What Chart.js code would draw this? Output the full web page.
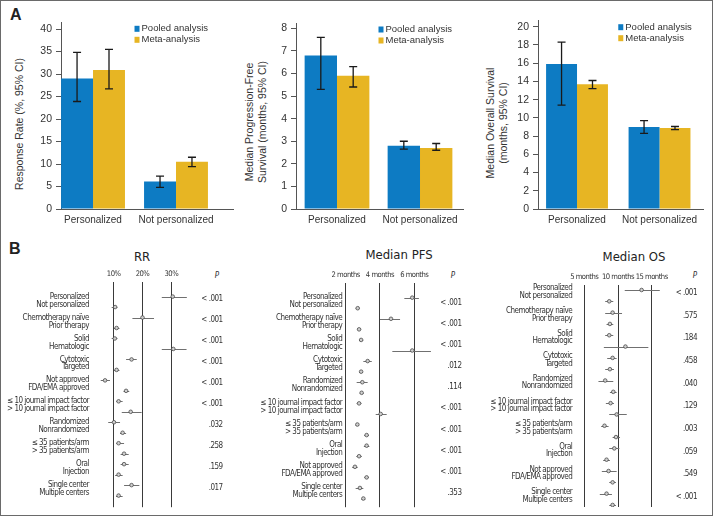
<!DOCTYPE html>
<html>
<head>
<meta charset="utf-8">
<script src="https://cdn.jsdelivr.net/npm/chart.js@4.4.1/dist/chart.umd.min.js"></script>
<style>
  body { margin: 0; background: #fff; }
  #fig { position: relative; width: 714px; height: 519px; overflow: hidden; }
  #frame { position: absolute; left: 0; top: 0; width: 713px; height: 516px; border: 1.5px solid #6a6a6a; box-sizing: border-box; }
  canvas { position: absolute; }
  .txt { position: absolute; white-space: nowrap; color: #222; }
  .panel { font: bold 16px 'Liberation Sans', Arial, sans-serif; line-height: 16px; }
  .ytitle { font: 10.5px 'Liberation Sans', Arial, sans-serif; line-height: 13px; text-align: center; color: #333;
            transform: translate(-50%, -50%) rotate(-90deg); }
  .ftitle { font: 13px 'DejaVu Sans Condensed', sans-serif; line-height: 13px; transform: translateX(-50%); }
  .phead { font: italic 8px 'DejaVu Sans Condensed', sans-serif; line-height: 10px; transform: translateX(-50%); color: #333; }
</style>
</head>
<body>
<div id="fig">
  <div id="frame"></div>

  <div class="txt panel" style="left:10px; top:7px;">A</div>
  <div class="txt panel" style="left:9px; top:241px;">B</div>

  <div class="txt ytitle" style="left:19px; top:124px;">Response Rate (%, 95% CI)</div>
  <div class="txt ytitle" style="left:256px; top:122px;">Median Progression-Free<br>Survival (months, 95% CI)</div>
  <div class="txt ytitle" style="left:497px; top:123px;">Median Overall Survival<br>(months, 95% CI)</div>

  <div class="txt ftitle" style="left:142px; top:250px;">RR</div>
  <div class="txt ftitle" style="left:399px; top:248px;">Median PFS</div>
  <div class="txt ftitle" style="left:634px; top:250px;">Median OS</div>

  <div class="txt phead" style="left:217px; top:271px;">P</div>
  <div class="txt phead" style="left:453px; top:271px;">P</div>
  <div class="txt phead" style="left:695px; top:271px;">P</div>

  <canvas id="barRR" width="240" height="230" style="left:0px; top:0px;"></canvas>
  <canvas id="barPFS" width="240" height="230" style="left:235px; top:0px;"></canvas>
  <canvas id="barOS" width="242" height="230" style="left:470px; top:0px;"></canvas>

  <canvas id="forestRR" width="235" height="253" style="left:0px; top:262px;"></canvas>
  <canvas id="forestPFS" width="240" height="253" style="left:235px; top:262px;"></canvas>
  <canvas id="forestOS" width="242" height="253" style="left:470px; top:262px;"></canvas>
</div>

<script>
// ---- Panel A: pooled vs meta-analysis ----
const groups = ['Personalized', 'Not personalized'];
const seriesNames = ['Pooled analysis', 'Meta-analysis'];

const rrPooled   = [29.0, 6.1];
const rrPooledLo = [23.9, 4.8];
const rrPooledHi = [34.8, 7.3];
const rrMeta     = [30.9, 10.5];
const rrMetaLo   = [26.7, 9.4];
const rrMetaHi   = [35.5, 11.5];
const rrTicks    = [0, 5, 10, 15, 20, 25, 30, 35, 40];

const pfsPooled   = [6.8, 2.8];
const pfsPooledLo = [5.3, 2.65];
const pfsPooledHi = [7.6, 3.0];
const pfsMeta     = [5.9, 2.7];
const pfsMetaLo   = [5.4, 2.6];
const pfsMetaHi   = [6.3, 2.9];
const pfsTicks    = [0, 1, 2, 3, 4, 5, 6, 7, 8];

const osPooled   = [15.9, 9.0];
const osPooledLo = [11.4, 8.3];
const osPooledHi = [18.3, 9.7];
const osMeta     = [13.7, 8.9];
const osMetaLo   = [13.2, 8.7];
const osMetaHi   = [14.1, 9.05];
const osTicks    = [0, 2, 4, 6, 8, 10, 12, 14, 16, 18, 20];

// ---- Panel B: subgroup forest plots ----
const rrLabels = ['Personalized', 'Not personalized', 'Chemotherapy naïve', 'Prior therapy', 'Solid', 'Hematologic',
  'Cytotoxic', 'Targeted', 'Not approved', 'FDA/EMA approved', '≤ 10 journal impact factor', '> 10 journal impact factor',
  'Randomized', 'Nonrandomized', '≤ 35 patients/arm', '> 35 patients/arm', 'Oral', 'Injection', 'Single center', 'Multiple centers'];
const rrEst = [30.5, 10.5, 20.0, 11.0, 10.4, 30.7, 16.2, 11.0, 7.0, 14.3, 11.7, 15.9, 10.1, 13.1, 11.7, 13.6, 13.6, 11.7, 16.2, 11.7];
const rrLo  = [26.7, 9.3, 16.5, 10.1, 9.3, 26.7, 14.3, 10.1, 5.5, 13.4, 10.8, 12.8, 8.1, 12.2, 10.8, 12.4, 12.4, 10.5, 13.6, 10.8];
const rrHi  = [35.4, 11.3, 24.0, 12.0, 11.3, 35.3, 18.0, 12.0, 8.7, 15.4, 13.1, 19.7, 12.2, 14.3, 13.6, 15.2, 15.2, 13.1, 18.9, 13.1];
const rrP   = ['< .001', '< .001', '< .001', '< .001', '< .001', '< .001', '.032', '.258', '.159', '.017'];
const rrXTicks = [10, 20, 30];

const pfsLabels = ['Personalized', 'Not personalized', 'Chemotherapy naïve', 'Prior therapy', 'Solid', 'Hematologic',
  'Cytotoxic', 'Targeted', 'Randomized', 'Nonrandomized', '≤ 10 journal impact factor', '> 10 journal impact factor',
  '≤ 35 patients/arm', '> 35 patients/arm', 'Oral', 'Injection', 'Not approved', 'FDA/EMA approved', 'Single center', 'Multiple centers'];
const pfsEst = [5.88, 2.70, 4.64, 2.78, 2.90, 5.88, 3.28, 2.90, 2.97, 2.93, 2.78, 4.04, 2.68, 3.22, 3.22, 2.78, 2.54, 3.22, 2.83, 3.03];
const pfsLo  = [5.42, 2.58, 4.00, 2.66, 2.78, 4.72, 3.03, 2.80, 2.64, 2.82, 2.64, 3.75, 2.58, 3.08, 3.06, 2.62, 2.38, 3.08, 2.58, 2.92];
const pfsHi  = [6.27, 2.82, 5.17, 2.90, 3.02, 6.97, 3.52, 3.00, 3.28, 3.04, 2.92, 4.39, 2.78, 3.36, 3.38, 2.94, 2.70, 3.36, 3.03, 3.14];
const pfsP   = ['< .001', '< .001', '< .001', '.012', '.114', '< .001', '< .001', '< .001', '< .001', '.353'];
const pfsXTicks = [2, 4, 6];

const osLabels = pfsLabels;
const osEst = [13.5, 8.7, 9.2, 8.8, 8.7, 11.1, 9.2, 8.8, 8.1, 9.3, 8.9, 9.8, 8.0, 9.7, 9.45, 8.3, 8.6, 9.2, 8.3, 9.2];
const osLo  = [11.0, 8.1, 8.1, 8.3, 8.1, 7.9, 8.4, 8.1, 7.1, 8.8, 8.2, 8.7, 7.5, 9.2, 8.7, 7.8, 7.6, 8.7, 7.3, 8.7];
const osHi  = [16.2, 9.3, 10.6, 9.3, 9.3, 14.5, 9.8, 9.4, 9.3, 9.8, 9.4, 11.3, 8.6, 10.3, 10.2, 8.8, 9.8, 9.7, 9.1, 9.7];
const osP   = ['< .001', '.575', '.184', '.458', '.040', '.129', '.003', '.059', '.549', '< .001'];
const osXTicks = [5, 10, 15];

const BLUE = '#0d7bc3';
const YELLOW = '#e7b523';
const sansFont = "'Liberation Sans', Arial, sans-serif";
const narrowFont = "'DejaVu Sans Condensed', sans-serif";

// vertical CI whiskers on the bars
const errorBars = {
  id: 'errorBars',
  afterDatasetsDraw(chart) {
    const ctx = chart.ctx, y = chart.scales.y;
    chart.data.datasets.forEach((ds, i) => {
      chart.getDatasetMeta(i).data.forEach((bar, j) => {
        const top = y.getPixelForValue(ds.errHi[j]);
        const bot = y.getPixelForValue(ds.errLo[j]);
        ctx.save();
        ctx.strokeStyle = '#1a1a1a';
        ctx.lineWidth = 1.3;
        ctx.beginPath();
        ctx.moveTo(bar.x, top); ctx.lineTo(bar.x, bot);
        ctx.moveTo(bar.x - 4, top); ctx.lineTo(bar.x + 4, top);
        ctx.moveTo(bar.x - 4, bot); ctx.lineTo(bar.x + 4, bot);
        ctx.stroke();
        ctx.restore();
      });
    });
  }
};

// small square legend inside the plot, top right
const boxLegend = {
  id: 'boxLegend',
  afterDraw(chart) {
    const ctx = chart.ctx;
    const x0 = chart.scales.x.getPixelForValue(0.5);
    chart.data.datasets.forEach((ds, i) => {
      const yc = chart.chartArea.top + 6.5 + i * 11;
      ctx.save();
      ctx.fillStyle = ds.backgroundColor;
      ctx.fillRect(x0, yc - 3, 5, 6);
      ctx.fillStyle = '#333';
      ctx.font = '9.5px ' + sansFont;
      ctx.textBaseline = 'middle';
      ctx.textAlign = 'left';
      ctx.fillText(ds.label, x0 + 7, yc);
      ctx.restore();
    });
  }
};

function barChart(id, d, lay) {
  const mk = (vals, lo, hi, label, color) => ({
    label: label,
    data: vals.map((v, i) => ({ x: i, y: v })),
    errLo: lo, errHi: hi,
    backgroundColor: color,
    borderWidth: 0,
    categoryPercentage: lay.catPct,
    barPercentage: 1
  });
  new Chart(document.getElementById(id), {
    type: 'bar',
    data: {
      datasets: [
        mk(d.pooled, d.pooledLo, d.pooledHi, seriesNames[0], BLUE),
        mk(d.meta, d.metaLo, d.metaHi, seriesNames[1], YELLOW)
      ]
    },
    options: {
      responsive: false,
      animation: false,
      layout: { padding: { left: 0, right: lay.padRight, top: lay.padTop, bottom: 0 } },
      plugins: { legend: { display: false }, tooltip: { enabled: false } },
      scales: {
        x: {
          type: 'linear', offset: false, min: lay.xMin, max: lay.xMax,
          afterBuildTicks: s => { s.ticks = groups.map((g, i) => ({ value: i })); },
          afterFit: s => { s.height = 21; },
          ticks: { autoSkip: false, maxRotation: 0, padding: 5, color: '#333',
                   font: { family: sansFont, size: 10 }, callback: v => groups[v] },
          grid: { display: false, drawTicks: false },
          border: { color: '#555', width: 1 }
        },
        y: {
          min: 0, max: lay.yMax,
          afterBuildTicks: s => { s.ticks = d.ticks.map(v => ({ value: v })); },
          afterFit: s => { s.width = lay.yWidth; },
          ticks: { autoSkip: false, padding: 4, color: '#333', font: { family: sansFont, size: 10.5 } },
          grid: { drawOnChartArea: false, tickLength: 5, color: '#555' },
          border: { color: '#555', width: 1 }
        }
      }
    },
    plugins: [errorBars, boxLegend]
  });
}

barChart('barRR',
  { pooled: rrPooled, pooledLo: rrPooledLo, pooledHi: rrPooledHi, meta: rrMeta, metaLo: rrMetaLo, metaHi: rrMetaHi, ticks: rrTicks },
  { yWidth: 61, padRight: 7, padTop: 22.3, xMin: -0.386, xMax: 1.687, yMax: 41.5, catPct: 0.77 });
barChart('barPFS',
  { pooled: pfsPooled, pooledLo: pfsPooledLo, pooledHi: pfsPooledHi, meta: pfsMeta, metaLo: pfsMetaLo, metaHi: pfsMetaHi, ticks: pfsTicks },
  { yWidth: 61, padRight: 12, padTop: 23, xMin: -0.494, xMax: 1.518, yMax: 8.234, catPct: 0.78 });
barChart('barOS',
  { pooled: osPooled, pooledLo: osPooledLo, pooledHi: osPooledHi, meta: osMeta, metaLo: osMetaLo, metaHi: osMetaHi, ticks: osTicks },
  { yWidth: 68, padRight: 9, padTop: 20.7, xMin: -0.473, xMax: 1.527, yMax: 20.66, catPct: 0.75 });

// horizontal CI lines behind the forest plot markers
const ciLines = {
  id: 'ciLines',
  beforeDatasetsDraw(chart) {
    const ctx = chart.ctx, xs = chart.scales.x, ys = chart.scales.y;
    const ds = chart.data.datasets[0];
    ctx.save();
    ctx.strokeStyle = '#707070';
    ctx.lineWidth = 1;
    ds.data.forEach((pt, i) => {
      const py = Math.round(ys.getPixelForValue(pt.y)) + 0.5;
      ctx.beginPath();
      ctx.moveTo(xs.getPixelForValue(ds.ciLo[i]), py);
      ctx.lineTo(xs.getPixelForValue(ds.ciHi[i]), py);
      ctx.stroke();
    });
    ctx.restore();
  }
};

// the condensed face on hand is wider than the original, so tighten the tracking a bit
const tightText = {
  id: 'tightText',
  beforeUpdate(chart) { chart.ctx.letterSpacing = '-0.5px'; },
  beforeDraw(chart) { chart.ctx.letterSpacing = '-0.5px'; }
};

function forestChart(id, f, lay) {
  const fnt = { family: narrowFont, size: 8 };
  // rows come in pairs; each label sits a little off its marker
  const labelRow = i => Math.floor(i / 2) * 2 + lay.labOff[i % 2];
  const pRow = p => p * 2 + lay.pOff;
  new Chart(document.getElementById(id), {
    type: 'scatter',
    data: {
      datasets: [{
        data: f.est.map((v, i) => ({ x: v, y: i })),
        ciLo: f.lo, ciHi: f.hi,
        pointRadius: 1.8,
        pointBackgroundColor: '#cfcfcf',
        pointBorderColor: '#4a4a4a',
        pointBorderWidth: 0.8
      }]
    },
    options: {
      responsive: false,
      animation: false,
      layout: { padding: lay.pad },
      plugins: { legend: { display: false }, tooltip: { enabled: false } },
      scales: {
        x: {
          type: 'linear', position: 'top', min: lay.xMin, max: lay.xMax,
          afterBuildTicks: s => { s.ticks = f.xTicks.map(v => ({ value: v })); },
          afterFit: s => { s.height = 14; },
          ticks: { autoSkip: false, maxRotation: 0, padding: 3, color: '#333',
                   font: { family: narrowFont, size: 7.6 }, callback: f.xFmt },
          grid: { color: '#3a3a3a', lineWidth: 1, drawTicks: false },
          border: { display: false }
        },
        y: {
          type: 'linear', reverse: true, min: lay.yMin, max: lay.yMax,
          afterBuildTicks: s => { s.ticks = f.labels.map((l, i) => ({ value: labelRow(i) })); },
          afterFit: s => { s.width = lay.leftW; },
          ticks: { autoSkip: false, padding: 3, color: '#333', font: fnt, callback: (v, i) => f.labels[i] },
          grid: { display: false, drawTicks: false },
          border: { display: false }
        },
        yP: {
          type: 'linear', position: 'right', reverse: true, min: lay.yMin, max: lay.yMax,
          afterBuildTicks: s => { s.ticks = f.p.map((t, i) => ({ value: pRow(i) })); },
          ticks: { autoSkip: false, mirror: true, padding: 0, color: '#333', font: fnt, callback: (v, i) => f.p[i] },
          grid: { display: false, drawTicks: false },
          border: { display: false }
        }
      }
    },
    plugins: [tightText, ciLines]
  });
}

forestChart('forestRR',
  { labels: rrLabels, est: rrEst, lo: rrLo, hi: rrHi, p: rrP, xTicks: rrXTicks, xFmt: v => v + '%' },
  { leftW: 92, pad: { left: 0, right: 12.3, top: 6, bottom: 6 }, xMin: 2.465, xMax: 47.85, yMin: -1.392, yMax: 20.108,
    labOff: [0, 0.76], pOff: 0.26 });
forestChart('forestPFS',
  { labels: pfsLabels, est: pfsEst, lo: pfsLo, hi: pfsHi, p: pfsP, xTicks: pfsXTicks, xFmt: v => v + ' months' },
  { leftW: 110.3, pad: { left: 0, right: 13.5, top: 7, bottom: 7 }, xMin: 1.977, xMax: 8.753, yMin: -1.385, yMax: 19.82,
    labOff: [-0.08, 0.67], pOff: 0.47 });
forestChart('forestOS',
  { labels: osLabels, est: osEst, lo: osLo, hi: osHi, p: osP, xTicks: osXTicks, xFmt: v => v + ' months' },
  { leftW: 105.3, pad: { left: 0, right: 15, top: 9, bottom: 8 }, xMin: 3.665, xMax: 21.72, yMin: -0.442, yMax: 19.18,
    labOff: [-0.14, 0.52], pOff: 0.27 });
</script>
</body>
</html>
